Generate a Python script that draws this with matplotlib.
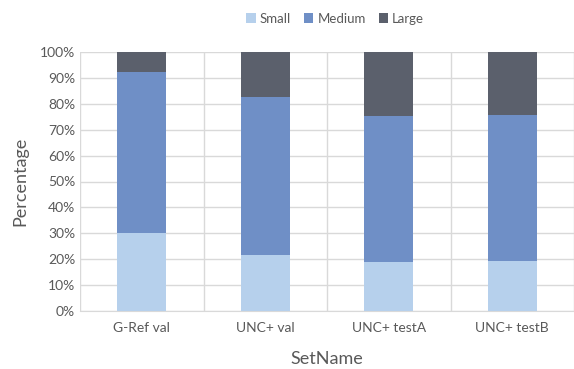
import numpy as np
import matplotlib.pyplot as plt
from matplotlib.ticker import PercentFormatter, MultipleLocator

sets = ["G-Ref val", "UNC+ val", "UNC+ testA", "UNC+ testB"]
small = [30.1, 21.6, 19.0, 19.3]
medium = [62.2, 61.0, 56.3, 56.4]
large = [7.7, 17.4, 24.7, 24.3]

colors = ["#B6D0EC", "#6F8FC6", "#5B606C"]
gray = "#595959"

plt.rcParams['font.family'] = ['Lato', 'DejaVu Sans']

fig = plt.figure(figsize=(5.74, 3.69), dpi=100)
ax = fig.add_axes([80 / 574, 1 - 311 / 369, 494 / 574, 259 / 369])

x = np.arange(len(sets))
w = 0.4
ax.bar(x, small, w, color=colors[0], label="Small", zorder=3)
ax.bar(x, medium, w, bottom=small, color=colors[1], label="Medium", zorder=3)
ax.bar(x, large, w, bottom=np.add(small, medium), color=colors[2], label="Large", zorder=3)

ax.set_xlim(-0.5, len(sets) - 0.5)
ax.set_ylim(0, 100)
ax.yaxis.set_major_locator(MultipleLocator(10))
ax.yaxis.set_major_formatter(PercentFormatter(decimals=0))
ax.set_xticks(x)
ax.set_xticklabels(sets)
ax.set_xticks(np.arange(len(sets) + 1) - 0.5, minor=True)
ax.grid(axis="y", color="#D9D9D9", lw=1, zorder=0)
ax.grid(axis="x", which="minor", color="#D9D9D9", lw=1, zorder=0)
ax.tick_params(which="both", length=0, colors=gray, labelsize=10)
ax.tick_params(axis="x", pad=8)
for s in ax.spines.values():
    s.set_visible(False)
ax.spines["bottom"].set_visible(True)
ax.spines["bottom"].set_color("#D9D9D9")

ax.set_xlabel("SetName", fontsize=13, color=gray, labelpad=12)
ax.set_ylabel("Percentage", fontsize=13, color=gray, labelpad=8)

fig.legend(loc="upper center", bbox_to_anchor=(0.584, 0.998), ncol=3, frameon=False,
           fontsize=9.5, handlelength=0.7, handleheight=0.7, handletextpad=0.3,
           columnspacing=1.0, labelcolor=gray)

fig.savefig("out.png", dpi=100)
